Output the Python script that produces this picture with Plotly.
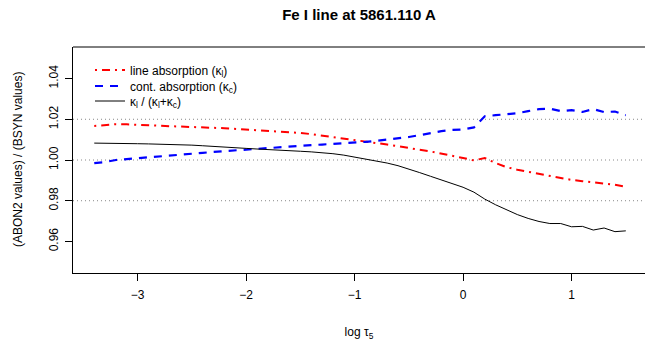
import plotly.graph_objects as go

log_tau = [round(-3.4 + 0.1 * i, 1) for i in range(50)]

line_abs = [1.0167, 1.0172, 1.0176, 1.0175, 1.0172, 1.0170, 1.0168, 1.0166, 1.0164, 1.0163,
            1.0161, 1.0158, 1.0156, 1.0153, 1.0150, 1.0147, 1.0145, 1.0142, 1.0138, 1.0133,
            1.0127, 1.0120, 1.0112, 1.0105, 1.0100, 1.0092, 1.0084, 1.0076, 1.0068, 1.0058,
            1.0050, 1.0042, 1.0032, 1.0022, 1.0010, 0.9998, 1.0010, 0.9985, 0.9965, 0.9952,
            0.9942, 0.9930, 0.9920, 0.9910, 0.9902, 0.9896, 0.9890, 0.9884, 0.9878, 0.9868]

cont_abs = [0.9985, 0.9990, 1.0000, 1.0004, 1.0008, 1.0013, 1.0018, 1.0022, 1.0026, 1.0030,
            1.0035, 1.0040, 1.0044, 1.0048, 1.0052, 1.0056, 1.0060, 1.0064, 1.0067, 1.0070,
            1.0073, 1.0076, 1.0079, 1.0081, 1.0084, 1.0089, 1.0094, 1.0100, 1.0106, 1.0113,
            1.0122, 1.0133, 1.0142, 1.0148, 1.0150, 1.0160, 1.0215, 1.0220, 1.0224, 1.0230,
            1.0240, 1.0250, 1.0252, 1.0240, 1.0245, 1.0236, 1.0250, 1.0235, 1.0238, 1.0220]

ratio = [1.0083, 1.0083, 1.0082, 1.0081, 1.0080, 1.0079, 1.0078, 1.0077, 1.0075, 1.0073,
         1.0070, 1.0066, 1.0063, 1.0060, 1.0057, 1.0054, 1.0052, 1.0049, 1.0046, 1.0043,
         1.0040, 1.0036, 1.0031, 1.0024, 1.0015, 1.0006, 0.9996, 0.9985, 0.9972, 0.9956,
         0.9938, 0.9920, 0.9903, 0.9885, 0.9866, 0.9842, 0.9808, 0.9780, 0.9755, 0.9732,
         0.9713, 0.9698, 0.9688, 0.9688, 0.9672, 0.9674, 0.9656, 0.9666, 0.9648, 0.9652]

y_ticks = [0.96, 0.98, 1.00, 1.02, 1.04]
x_ticks = [-3, -2, -1, 0, 1]
grid_levels = [0.98, 1.00, 1.02]

FONT = "Liberation Sans, Arial, sans-serif"

fig = go.Figure()
fig.add_trace(go.Scatter(x=log_tau, y=line_abs, mode="lines", legend="legend",
                         name="line absorption (κ<sub>l</sub>)",
                         line=dict(color="#ff0000", width=2, dash="2px,5px,8px,5px")))
fig.add_trace(go.Scatter(x=log_tau, y=cont_abs, mode="lines", legend="legend2",
                         name="cont. absorption (κ<sub>c</sub>)",
                         line=dict(color="#0000ff", width=2.2, dash="8px,7px")))
fig.add_trace(go.Scatter(x=log_tau, y=ratio, mode="lines", legend="legend3",
                         name="κ<sub>l</sub> / (κ<sub>l</sub>+κ<sub>c</sub>)",
                         line=dict(color="#000000", width=1)))

shapes = []
for g in grid_levels:
    shapes.append(dict(type="line", xref="paper", x0=0, x1=1, yref="y", y0=g, y1=g,
                       line=dict(color="#888888", width=1, dash="1px,3px"), layer="below"))
# box (top edge; right edge lies outside the visible page)
shapes.append(dict(type="line", xref="paper", x0=0, x1=1, yref="paper", y0=1, y1=1,
                   line=dict(color="black", width=1)))


def leg(py):
    return dict(x=(90 - 73) / 572, y=1 - (py - 47) / 226, xanchor="left", yanchor="middle",
                bgcolor="rgba(0,0,0,0)", font=dict(size=12, family=FONT), itemwidth=30)


fig.update_layout(
    width=645, height=345,
    margin=dict(l=73, r=0, t=47, b=72),
    paper_bgcolor="white", plot_bgcolor="white",
    font=dict(family=FONT, size=12, color="black"),
    title=dict(text="<b>Fe I line at 5861.110 A</b>", x=0.5, xref="paper", xanchor="center",
               y=1 - 15 / 345, yref="container", yanchor="middle",
               font=dict(size=15, family=FONT)),
    showlegend=True,
    legend=leg(70), legend2=leg(86), legend3=leg(101),
    shapes=shapes,
    xaxis=dict(range=[-3.596, 1.677], tickvals=x_ticks,
               ticktext=["\u22123", "\u22122", "\u22121", "0", "1"],
               showgrid=False, zeroline=False, showline=True, linecolor="black", linewidth=1,
               ticks="outside", ticklen=7, tickcolor="black", tickfont=dict(size=12),
               ticklabelstandoff=4,
               title=dict(text="log τ<sub>5</sub>", font=dict(size=12), standoff=26)),
    yaxis=dict(range=[0.9445, 1.0555], tickvals=y_ticks,
               ticktext=["0.96", "0.98", "1.00", "1.02", "1.04"],
               showgrid=False, zeroline=False, showline=True, linecolor="black", linewidth=1,
               ticks="outside", ticklen=7, tickcolor="black", tickangle=-90,
               ticklabelstandoff=2, tickfont=dict(size=12)),
    annotations=[dict(text="(ABON2 values) / (BSYN values)", xref="paper", yref="paper",
                      x=(18 - 73) / 572, y=0.5, xanchor="center", yanchor="middle",
                      textangle=-90, showarrow=False, font=dict(size=12, family=FONT))],
)

fig.write_html("out.html")
